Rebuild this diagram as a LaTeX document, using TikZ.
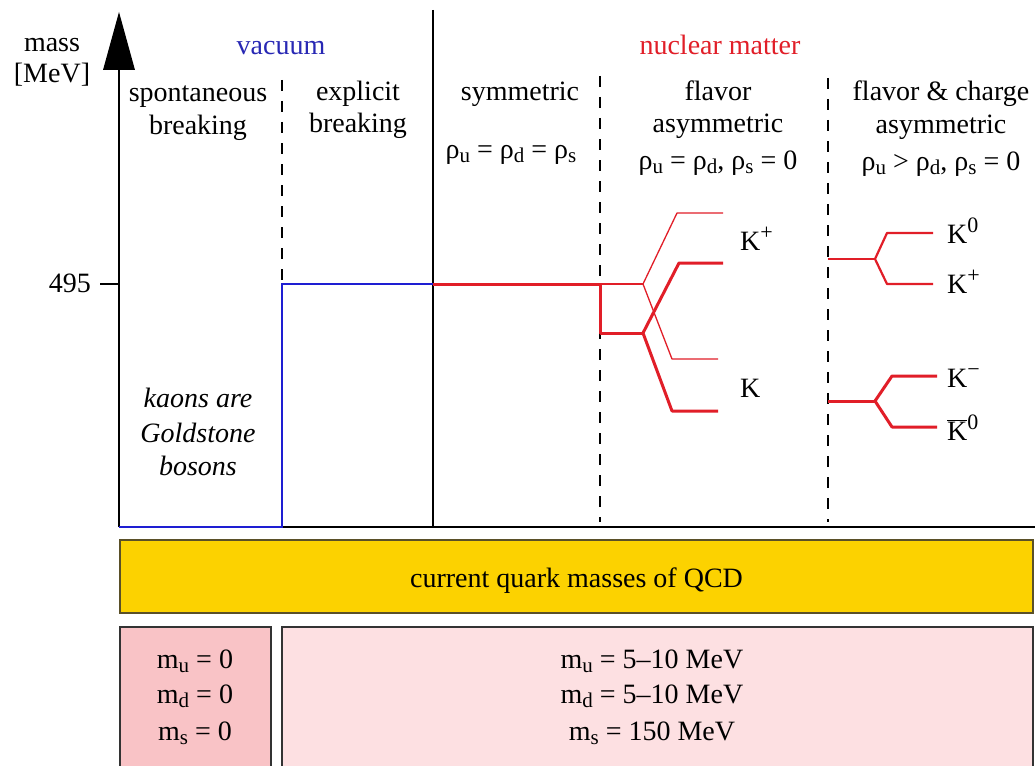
\documentclass[tikz,border=0pt]{standalone}
\usepackage{fontspec}
\setmainfont{Liberation Serif}
\definecolor{vblue}{RGB}{30,30,210}
\definecolor{vtext}{RGB}{40,40,180}
\definecolor{nred}{RGB}{225,30,40}
\definecolor{qyellow}{RGB}{252,210,0}
\definecolor{qborder}{RGB}{90,80,40}
\definecolor{pinkA}{RGB}{249,195,198}
\definecolor{pinkB}{RGB}{253,224,226}
\newcommand{\rsub}[1]{\raisebox{-0.35ex}{\fontsize{21}{21}\selectfont #1}}
\newcommand{\rsup}[1]{\raisebox{0.8ex}{\fontsize{22}{22}\selectfont #1}}
\begin{document}
\begin{tikzpicture}[x=1pt,y=-1pt,
  font=\fontsize{28}{33}\selectfont,
  lbl/.style={anchor=base, inner sep=0pt},
  klbl/.style={anchor=base west, inner sep=0pt},
  axisline/.style={line width=2.5pt, black},
  sepdash/.style={line width=2.5pt, black, dash pattern=on 11pt off 10pt},
  vac/.style={line width=2.8pt, vblue},
  thickred/.style={line width=3pt, nred, line join=round},
  thinred/.style={line width=1.3pt, nred, line join=round},
  midred/.style={line width=2.2pt, nred, line join=round},
  panel/.style={draw=black!80, line width=1.2pt, inner sep=0pt}
]
\useasboundingbox (0,0) rectangle (1035,765);
\fill[white] (0,0) rectangle (1035,765);

% boxes
\node[panel, draw=qborder, fill=qyellow, minimum width=913pt, minimum height=73pt] (qcd) at (576.5,576.5) {};
\node[lbl] (qcdtext) at (576.5,587) {current quark masses of QCD};
\node[panel, fill=pinkA, minimum width=151pt, minimum height=143pt] (chiral) at (195.5,698.5) {};
\node[panel, fill=pinkB, minimum width=751pt, minimum height=143pt] (real) at (657.5,698.5) {};
\node[lbl] (mu0) at (195,668) {m\rsub{u} = 0};
\node[lbl] (md0) at (195,703) {m\rsub{d} = 0};
\node[lbl] (ms0) at (195,740) {m\rsub{s} = 0};
\node[lbl] (mu1) at (652,668) {m\rsub{u} = 5–10 MeV};
\node[lbl] (md1) at (652,703) {m\rsub{d} = 5–10 MeV};
\node[lbl] (ms1) at (652,740) {m\rsub{s} = 150 MeV};

% axes
\coordinate (origin) at (119,527);
\coordinate (axtop) at (119,70);
\coordinate (xend) at (1035,527);
\draw[axisline] (origin) -- (axtop);
\fill (103,70) -- (119,12) -- (135,70) -- cycle;
\draw[axisline] (origin) -- (xend);
\coordinate (tick) at (100,284);
\coordinate (tickax) at (119,284);
\draw[line width=2pt] (tick) -- (tickax);
\node[anchor=base east, inner sep=0pt] (l495) at (91,292) {495};
\node[lbl] (mass) at (52,52) {mass};
\node[lbl] (mev) at (52,83) {[MeV]};

% separators
\coordinate (sepmedtop) at (433,10);
\coordinate (sepmedbot) at (433,527);
\draw[axisline] (sepmedtop) -- (sepmedbot);
\coordinate (d1t) at (282,80);
\coordinate (d1b) at (282,284);
\draw[sepdash] (d1t) -- (d1b);
\coordinate (d2t) at (600,76);
\coordinate (d2b) at (600,522);
\draw[sepdash] (d2t) -- (d2b);
\coordinate (d3t) at (828,78);
\coordinate (d3b) at (828,522);
\draw[sepdash] (d3t) -- (d3b);

% vacuum levels
\coordinate (v0) at (119,527);
\coordinate (v1) at (282,527);
\coordinate (v2) at (282,284);
\coordinate (v3) at (433,284);
\draw[vac, line join=miter] (v0) -- (v1) -- (v2) -- (v3);

% nuclear matter: symmetric
\coordinate (s1) at (600,284);
\draw[thickred] (v3) -- (s1);
% flavor asymmetric
\coordinate (fa) at (643,284);
\coordinate (fb) at (600,333);
\coordinate (fc) at (643,333);
\draw[thinred] (s1) -- (fa);
\draw[thickred] (s1) -- (fb) -- (fc);
\coordinate (kp1a) at (677,213);
\coordinate (kp1b) at (723,213);
\coordinate (kp2a) at (672,359);
\coordinate (kp2b) at (718,359);
\draw[thinred] (kp1b) -- (kp1a) -- (fa) -- (kp2a) -- (kp2b);
\coordinate (km1a) at (679,263);
\coordinate (km1b) at (723,263);
\coordinate (km2a) at (672,411);
\coordinate (km2b) at (718,411);
\draw[thickred] (km1b) -- (km1a) -- (fc) -- (km2a) -- (km2b);
\node[klbl] (lKp) at (740,250) {K\rsup{+}};
\node[klbl] (lK) at (740,397) {K};

% flavor & charge asymmetric
\coordinate (c1) at (828,259);
\coordinate (c2) at (875,259);
\coordinate (c3a) at (887,233);
\coordinate (c3b) at (933,233);
\coordinate (c4a) at (887,284);
\coordinate (c4b) at (933,284);
\draw[midred] (c1) -- (c2);
\draw[midred] (c3b) -- (c3a) -- (c2) -- (c4a) -- (c4b);
\coordinate (e1) at (828,401);
\coordinate (e2) at (875,401);
\coordinate (e3a) at (892,376);
\coordinate (e3b) at (937,376);
\coordinate (e4a) at (892,427);
\coordinate (e4b) at (937,427);
\draw[thickred] (e1) -- (e2);
\draw[thickred] (e3b) -- (e3a) -- (e2) -- (e4a) -- (e4b);
\node[klbl] (lK0) at (947,243) {K\rsup{0}};
\node[klbl] (lKp2) at (947,293) {K\rsup{+}};
\node[klbl] (lKm) at (947,387) {K\rsup{−}};
\node[klbl] (lK0b) at (947,440) {\ensuremath{\overline{\hbox{K}}}\rsup{0}};

% headings
\node[lbl, text=vtext] (vacuum) at (281,55) {vacuum};
\node[lbl, text=nred] (nuclear) at (720,55) {nuclear matter};
\node[lbl] (sp1) at (198,102) {spontaneous};
\node[lbl] (sp2) at (198,134) {breaking};
\node[lbl] (ex1) at (358,101) {explicit};
\node[lbl] (ex2) at (358,132) {breaking};
\node[lbl] (sy1) at (520,101) {symmetric};
\node[lbl] (sy2) at (511,158) {ρ\rsub{u} = ρ\rsub{d} = ρ\rsub{s}};
\node[lbl] (fl1) at (718,101) {flavor};
\node[lbl] (fl2) at (718,132) {asymmetric};
\node[lbl] (fl3) at (718,169) {ρ\rsub{u} = ρ\rsub{d}, ρ\rsub{s} = 0};
\node[lbl] (fc1) at (941,101) {flavor \& charge};
\node[lbl] (fc2) at (941,133) {asymmetric};
\node[lbl] (fc3) at (941,170) {ρ\rsub{u} > ρ\rsub{d}, ρ\rsub{s} = 0};
\node[lbl, font=\fontsize{28}{33}\selectfont\itshape] (gs1) at (198,407) {kaons are};
\node[lbl, font=\fontsize{28}{33}\selectfont\itshape] (gs2) at (198,442) {Goldstone};
\node[lbl, font=\fontsize{28}{33}\selectfont\itshape] (gs3) at (198,475) {bosons};
\end{tikzpicture}
\end{document}
